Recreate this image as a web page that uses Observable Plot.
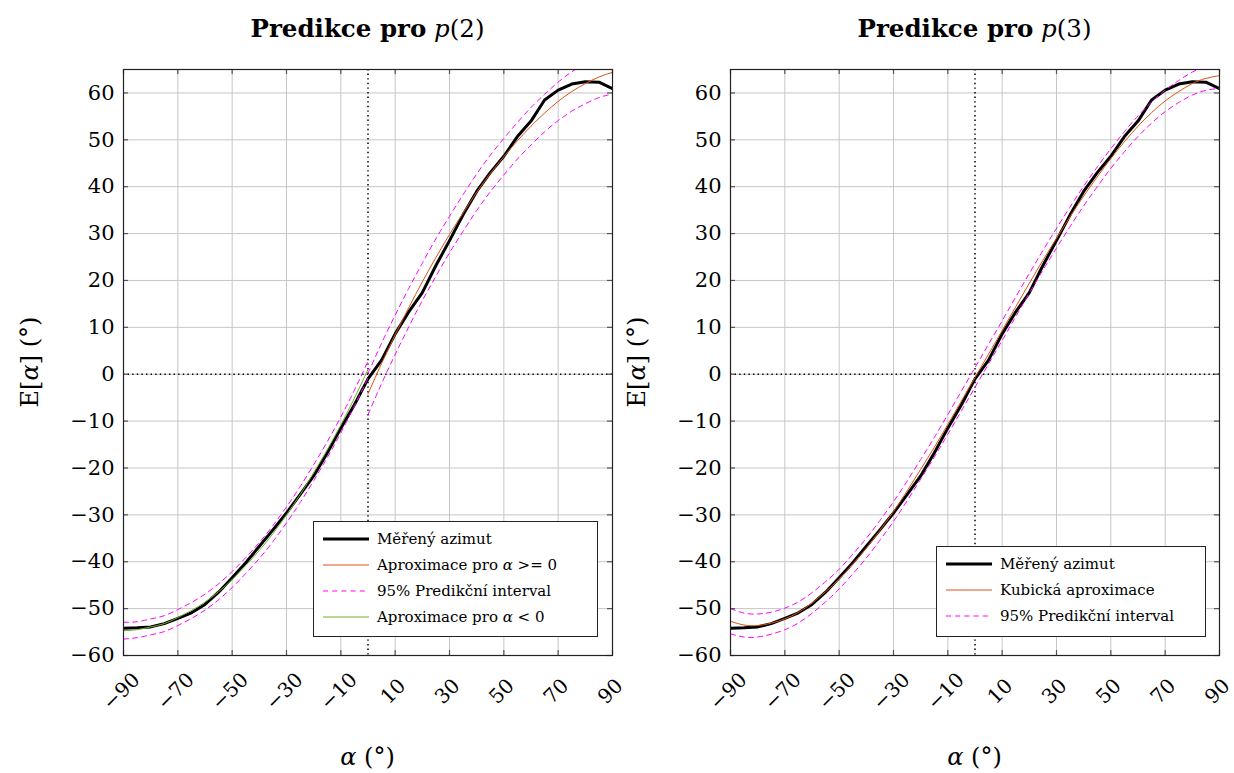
<!DOCTYPE html>
<html><head><meta charset="utf-8">
<script src="https://cdn.jsdelivr.net/npm/d3@7"></script>
<script src="https://cdn.jsdelivr.net/npm/@observablehq/plot@0.6"></script>
<style>
body{margin:0;background:#fff;font-family:"DejaVu Serif","Liberation Serif",serif;color:#000}
#fig{position:relative;width:1234px;height:773px;overflow:hidden;background:#fff}
.panel{position:absolute;top:0;width:617px;height:773px}
.panel > svg{position:absolute;left:0;top:0;overflow:visible}
.title{position:absolute;top:14px;font-size:24.5px;text-align:center;white-space:nowrap}
.xlab{position:absolute;top:743px;font-size:24px;text-align:center;white-space:nowrap}
.ylab{position:absolute;font-size:24px;white-space:nowrap;transform:translate(-50%,-50%) rotate(-90deg)}
.legend{position:absolute;background:#fff;border:1px solid #222;font-size:15px;box-sizing:border-box;padding:4px 0}
.legend .row{display:flex;align-items:center;height:26px}
.legend svg{position:static;margin-left:9px;margin-right:8px}
</style></head><body><div id="fig"></div>
<script>
// ---------- data ----------
const xTicks = [-90, -70, -50, -30, -10, 10, 30, 50, 70, 90];
const yTicks = [-60, -50, -40, -30, -20, -10, 0, 10, 20, 30, 40, 50, 60];
const zeroRef = [0];

const alpha = [-90,-85,-80,-75,-70,-65,-60,-55,-50,-45,-40,-35,-30,-25,-20,-15,-10,-5,0,5,10,15,20,25,30,35,40,45,50,55,60,65,70,75,80,85,90];
const measured = [-54.2,-54.1,-53.9,-53.2,-52.1,-50.9,-49.1,-46.5,-43.4,-40.2,-36.7,-33.2,-29.6,-25.7,-21.7,-16.8,-11.5,-6.5,-1.0,3.0,8.6,13.3,17.4,23.2,28.5,34.0,39.0,43.0,46.5,50.7,54.0,58.5,60.6,61.9,62.4,62.3,60.9];

// left panel: piecewise quadratic approximations
const alphaPos = [0,5,10,15,20,25,30,35,40,45,50,55,60,65,70,75,80,85,90];
const fitPos   = [-4.2,2.3,8.4,14.2,19.7,24.9,29.8,34.4,38.8,42.8,46.4,49.8,52.9,55.7,58.2,60.3,62.0,63.4,64.4];
const fitPosUp = [0.2,6.6,12.6,18.3,23.7,28.9,33.7,38.3,42.7,46.7,50.3,53.7,56.9,59.7,62.3,64.5,66.3,67.8,69.0];
const fitPosLo = [-8.6,-2.0,4.2,10.1,15.7,20.9,25.9,30.5,34.9,38.9,42.5,45.9,48.9,51.7,54.1,56.1,57.7,59.0,59.8];

const alphaNeg = [-90,-85,-80,-75,-70,-65,-60,-55,-50,-45,-40,-35,-30,-25,-20,-15,-10,-5,0];
const fitNeg   = [-54.7,-54.5,-53.9,-53.2,-51.9,-50.4,-48.6,-46.4,-43.8,-40.8,-37.6,-34.0,-30.0,-25.7,-21.0,-16.1,-10.8,-5.1,1.0];
const fitNegUp = [-52.9,-52.8,-52.2,-51.5,-50.2,-48.7,-46.9,-44.7,-42.1,-39.1,-35.9,-32.3,-28.3,-24.0,-19.3,-14.4,-9.1,-3.4,2.8];
const fitNegLo = [-56.5,-56.2,-55.6,-54.9,-53.6,-52.1,-50.3,-48.1,-45.5,-42.5,-39.3,-35.7,-31.7,-27.4,-22.7,-17.8,-12.5,-6.8,-0.8];

// right panel: cubic approximation
const cubic   = [-52.7,-53.5,-53.6,-53.1,-52.2,-50.8,-48.8,-46.4,-43.7,-40.5,-37.1,-33.3,-29.3,-24.9,-20.3,-15.6,-10.7,-5.7,-0.7,4.3,9.3,14.4,19.4,24.3,29.0,33.6,38.0,42.1,46.0,49.6,52.9,55.8,58.3,60.3,62.0,63.1,63.7];
const cubicUp = [-50.0,-50.95,-51.15,-50.75,-49.9,-48.55,-46.6,-44.25,-41.6,-38.4,-35.0,-31.2,-27.2,-22.8,-18.2,-13.5,-8.6,-3.6,1.4,6.4,11.4,16.5,21.5,26.4,31.1,35.7,40.1,44.2,48.1,51.75,55.1,58.05,60.6,62.65,64.45,65.65,66.4];
const cubicLo = [-55.4,-56.05,-56.05,-55.45,-54.5,-53.05,-51.0,-48.55,-45.8,-42.6,-39.2,-35.4,-31.4,-27.0,-22.4,-17.7,-12.8,-7.8,-2.8,2.2,7.2,12.3,17.3,22.2,26.9,31.5,35.9,40.0,43.9,47.45,50.7,53.55,56.0,57.95,59.55,60.55,61.0];

const C_ORANGE = "#D95319", C_GREEN = "#77AC30", C_MAG = "#FF00FF";
const DASH = "5,4.2";
const FONT = '"DejaVu Serif","Liberation Serif",serif';

// ---------- helpers ----------
const pts = (xs, ys) => xs.map((x, i) => ({x, y: ys[i]}));
const fmt = d => (d < 0 ? "\u2212" + Math.abs(d) : String(d));

function panel(cfg) {
  const W = 617, H = 773, mT = 69, mB = 118;
  const pw = W - cfg.mL - cfg.mR, ph = H - mT - mB;
  const lineMarks = cfg.series.map(s =>
    Plot.line(s.data, {x: "x", y: "y", stroke: s.color, strokeWidth: s.width,
      strokeDasharray: s.dash || null, curve: s.curve || "linear", clip: true,
      strokeLinejoin: "round"}));
  const svg = Plot.plot({
    width: W, height: H, marginLeft: cfg.mL, marginRight: cfg.mR, marginTop: mT, marginBottom: mB,
    x: {domain: [-90, 90], axis: null}, y: {domain: [-60, 65], axis: null},
    style: {background: "transparent", color: "#000", fontFamily: FONT, overflow: "visible"},
    marks: [
      Plot.gridX(xTicks, {stroke: "#c6c6c6", strokeOpacity: 1, strokeWidth: 1}),
      Plot.gridY(yTicks, {stroke: "#c6c6c6", strokeOpacity: 1, strokeWidth: 1}),
      Plot.ruleX(zeroRef, {x: d => d, stroke: "#000", strokeWidth: 1.5, strokeDasharray: "1.4,3.2"}),
      Plot.ruleY(zeroRef, {y: d => d, stroke: "#000", strokeWidth: 1.5, strokeDasharray: "1.4,3.2"}),
      ...lineMarks,
      // inward tick marks on all four sides
      Plot.ruleX(xTicks, {x: d => d, insetTop: ph - 5, stroke: "#555", strokeWidth: 1.2}),
      Plot.ruleX(xTicks, {x: d => d, insetBottom: ph - 5, stroke: "#555", strokeWidth: 1.2}),
      Plot.ruleY(yTicks, {y: d => d, insetRight: pw - 5, stroke: "#555", strokeWidth: 1.2}),
      Plot.ruleY(yTicks, {y: d => d, insetLeft: pw - 5, stroke: "#555", strokeWidth: 1.2}),
      Plot.frame({stroke: "#222", strokeWidth: 1.2}),
      Plot.text(yTicks, {y: d => d, text: fmt, frameAnchor: "left", dx: -9, textAnchor: "end",
        lineAnchor: "middle", fontSize: 21}),
      Plot.text(xTicks, {x: d => d, text: fmt, frameAnchor: "bottom", dy: 36, dx: -2, rotate: -45,
        textAnchor: "middle", lineAnchor: "middle", fontSize: 20})
    ]
  });
  const div = document.createElement("div");
  div.className = "panel";
  div.style.left = cfg.left + "px";
  div.appendChild(svg);
  const cx = cfg.mL + pw / 2;
  const t = document.createElement("div");
  t.className = "title"; t.innerHTML = cfg.title;
  t.style.left = cx + "px"; t.style.transform = "translateX(-50%)";
  div.appendChild(t);
  const xl = document.createElement("div");
  xl.className = "xlab"; xl.innerHTML = "<i>α</i> (°)";
  xl.style.left = cx + "px"; xl.style.transform = "translateX(-50%)";
  div.appendChild(xl);
  const yl = document.createElement("div");
  yl.className = "ylab"; yl.innerHTML = "E[<i>α</i>] (°)";
  yl.style.left = (cfg.mL - 93) + "px"; yl.style.top = "362px";
  div.appendChild(yl);
  // legend
  const lg = document.createElement("div");
  lg.className = "legend";
  Object.assign(lg.style, cfg.legendBox);
  cfg.legend.forEach(e => {
    const r = document.createElement("div"); r.className = "row";
    r.innerHTML = `<svg width="46" height="10"><line x1="0" y1="5" x2="46" y2="5" stroke="${e.color}" stroke-width="${e.width}" ${e.dash ? `stroke-dasharray="${e.dash}"` : ""}/></svg><span>${e.label}</span>`;
    lg.appendChild(r);
  });
  div.appendChild(lg);
  document.getElementById("fig").appendChild(div);
}

panel({
  left: 0, mL: 123, mR: 5,
  title: "<b>Predikce pro</b> <i>p</i>(2)",
  series: [
    {data: pts(alpha, measured), color: "#000", width: 3},
    {data: pts(alphaPos, fitPos), color: C_ORANGE, width: 1, curve: "natural"},
    {data: pts(alphaPos, fitPosUp), color: C_MAG, width: 1, dash: DASH, curve: "natural"},
    {data: pts(alphaPos, fitPosLo), color: C_MAG, width: 1, dash: DASH, curve: "natural"},
    {data: pts(alphaNeg, fitNegUp), color: C_MAG, width: 1, dash: DASH, curve: "natural"},
    {data: pts(alphaNeg, fitNegLo), color: C_MAG, width: 1, dash: DASH, curve: "natural"},
    {data: pts(alphaNeg, fitNeg), color: C_GREEN, width: 1, curve: "natural"}
  ],
  legendBox: {left: "313px", top: "521px", width: "285px", height: "116px"},
  legend: [
    {label: "Měřený azimut", color: "#000", width: 3},
    {label: "Aproximace pro <i>α</i> &gt;= 0", color: C_ORANGE, width: 1},
    {label: "95% Predikční interval", color: C_MAG, width: 1, dash: DASH},
    {label: "Aproximace pro <i>α</i> &lt; 0", color: C_GREEN, width: 1}
  ]
});

panel({
  left: 617, mL: 113, mR: 15,
  title: "<b>Predikce pro</b> <i>p</i>(3)",
  series: [
    {data: pts(alpha, measured), color: "#000", width: 3},
    {data: pts(alpha, cubic), color: C_ORANGE, width: 1, curve: "natural"},
    {data: pts(alpha, cubicUp), color: C_MAG, width: 1, dash: DASH, curve: "natural"},
    {data: pts(alpha, cubicLo), color: C_MAG, width: 1, dash: DASH, curve: "natural"}
  ],
  legendBox: {left: "319px", top: "546px", width: "270px", height: "91px"},
  legend: [
    {label: "Měřený azimut", color: "#000", width: 3},
    {label: "Kubická aproximace", color: C_ORANGE, width: 1},
    {label: "95% Predikční interval", color: C_MAG, width: 1, dash: DASH}
  ]
});
</script></body></html>
